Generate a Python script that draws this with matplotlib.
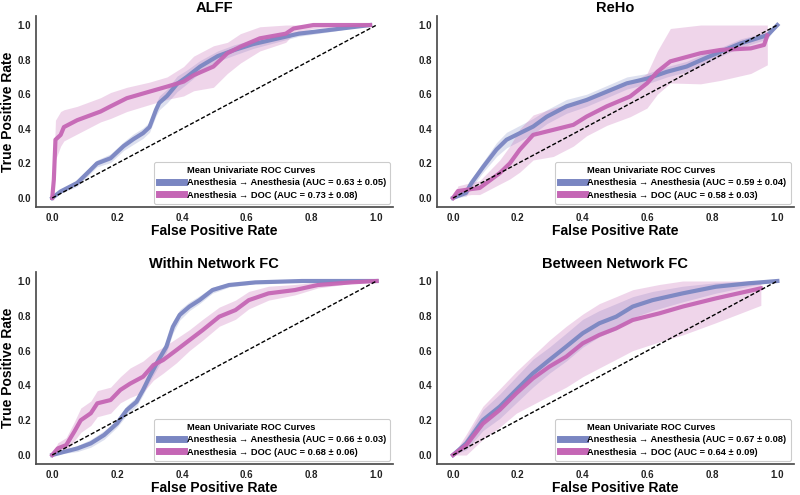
import matplotlib
matplotlib.use('Agg')
from matplotlib import pyplot as plt
from matplotlib.lines import Line2D

plt.rcParams['font.family'] = ['Liberation Sans', 'DejaVu Sans']
plt.rcParams['font.weight'] = 'bold'

BLUE = '#7a86c2'
PINK = '#c566b5'

titles = ['ALFF', 'ReHo', 'Within Network FC', 'Between Network FC']
labels_a = ['Anesthesia \u2192 Anesthesia (AUC = 0.63 \u00b1 0.05)',
            'Anesthesia \u2192 Anesthesia (AUC = 0.59 \u00b1 0.04)',
            'Anesthesia \u2192 Anesthesia (AUC = 0.66 \u00b1 0.03)',
            'Anesthesia \u2192 Anesthesia (AUC = 0.67 \u00b1 0.08)']
labels_d = ['Anesthesia \u2192 DOC (AUC = 0.73 \u00b1 0.08)',
            'Anesthesia \u2192 DOC (AUC = 0.58 \u00b1 0.03)',
            'Anesthesia \u2192 DOC (AUC = 0.68 \u00b1 0.06)',
            'Anesthesia \u2192 DOC (AUC = 0.64 \u00b1 0.09)']

# ALFF
alff_a_fpr = [0, .026, .077, .108, .138, .18, .22, .25, .28, .30, .32, .33, .354, .385, .415, .456, .51, .56, .62, .69, .76, .87, .98]
alff_a_tpr = [0, .038, .087, .144, .20, .23, .30, .34, .375, .41, .51, .55, .59, .66, .70, .76, .82, .855, .89, .92, .95, .975, 1.0]
alff_a_lo = [0, .028, .067, .124, .18, .205, .275, .31, .345, .38, .475, .51, .55, .615, .66, .725, .79, .825, .865, .90, .935, .965, 1.0]
alff_a_hi = [0, .048, .107, .164, .22, .255, .325, .37, .405, .44, .545, .59, .63, .705, .74, .795, .85, .885, .915, .94, .965, .985, 1.0]
alff_d_fpr = [0, .005, .01, .026, .036, .077, .149, .18, .23, .30, .354, .405, .436, .497, .54, .58, .64, .72, .744, .805, .98]
alff_d_tpr = [0, .106, .337, .365, .41, .45, .50, .53, .577, .615, .644, .673, .71, .76, .837, .875, .923, .95, .98, 1.0, 1.0]
alff_d_lo = [0, .05, .22, .30, .33, .37, .44, .46, .50, .54, .57, .59, .62, .64, .72, .78, .85, .90, .95, .98, 1.0]
alff_d_hi = [0, .18, .45, .50, .51, .53, .58, .61, .64, .67, .70, .76, .82, .88, .90, .95, .99, 1.0, 1.0, 1.0, 1.0]

# ReHo
reho_a_fpr = [0, .04, .057, .093, .134, .165, .206, .247, .289, .35, .412, .474, .536, .598, .66, .72, .78, .825, .887, .97, 1.0]
reho_a_tpr = [0, .03, .087, .18, .28, .337, .375, .413, .47, .53, .567, .615, .663, .69, .73, .76, .81, .846, .894, .942, 1.0]
reho_a_lo = [0, .01, .06, .15, .24, .29, .33, .37, .43, .49, .53, .58, .63, .66, .70, .73, .78, .82, .87, .92, 1.0]
reho_a_hi = [0, .05, .11, .21, .32, .38, .42, .46, .51, .57, .60, .65, .70, .72, .76, .79, .84, .87, .92, .96, 1.0]
reho_d_fpr = [0, .015, .057, .082, .103, .144, .175, .206, .247, .309, .371, .412, .474, .546, .598, .63, .67, .763, .825, .918, .959, .969]
reho_d_tpr = [0, .04, .052, .058, .087, .144, .20, .28, .365, .394, .423, .471, .53, .587, .663, .73, .79, .837, .856, .865, .885, .94]
reho_d_lo = [0, .01, .02, .02, .04, .08, .11, .15, .22, .24, .30, .36, .42, .47, .52, .60, .665, .66, .68, .72, .76, .77]
reho_d_hi = [0, .07, .09, .10, .14, .22, .30, .40, .48, .52, .55, .58, .62, .66, .72, .85, .98, 1.0, 1.0, 1.0, 1.0, 1.0]

# Within network FC
win_a_fpr = [0, .038, .078, .119, .16, .20, .23, .26, .28, .30, .322, .352, .372, .393, .423, .454, .494, .545, .626, .77, 1.0]
win_a_tpr = [0, .019, .038, .067, .115, .182, .259, .306, .374, .45, .527, .623, .737, .805, .853, .89, .948, .977, .992, 1.0, 1.0]
win_a_lo = [0, .01, .02, .045, .09, .16, .23, .28, .345, .42, .49, .59, .70, .775, .83, .87, .93, .965, .985, .995, 1.0]
win_a_hi = [0, .03, .055, .09, .14, .205, .285, .335, .40, .48, .56, .655, .77, .835, .88, .915, .965, .99, 1.0, 1.0, 1.0]
win_d_fpr = [0, .017, .043, .068, .088, .119, .139, .18, .21, .24, .28, .312, .342, .383, .423, .464, .515, .565, .606, .667, .748, .819, .92, 1.0]
win_d_tpr = [0, .038, .057, .134, .20, .24, .297, .316, .374, .41, .45, .517, .546, .603, .66, .718, .795, .833, .89, .929, .948, .977, .992, 1.0]
win_d_lo = [0, .01, .02, .08, .13, .17, .22, .24, .30, .33, .36, .43, .47, .53, .60, .66, .74, .78, .84, .89, .92, .96, .985, 1.0]
win_d_hi = [0, .07, .10, .19, .27, .31, .37, .39, .45, .50, .54, .59, .62, .67, .72, .78, .85, .89, .94, .97, .98, .995, 1.0, 1.0]

# Between network FC
btw_a_fpr = [0, .041, .092, .144, .195, .246, .297, .349, .40, .451, .503, .554, .615, .708, .81, .913, 1.0]
btw_a_tpr = [0, .067, .20, .278, .374, .469, .546, .623, .70, .757, .795, .853, .89, .929, .967, .987, 1.0]
btw_a_lo = [0, .03, .14, .21, .30, .39, .47, .54, .62, .68, .72, .79, .83, .88, .93, .97, 1.0]
btw_a_hi = [0, .10, .26, .35, .45, .55, .62, .70, .78, .83, .87, .91, .94, .97, .99, 1.0, 1.0]
btw_d_fpr = [0, .041, .092, .144, .195, .246, .297, .349, .40, .451, .503, .554, .636, .708, .81, .949]
btw_d_tpr = [0, .057, .18, .259, .354, .44, .508, .565, .642, .69, .728, .776, .814, .853, .90, .958]
btw_d_lo = [0, .0, .09, .16, .24, .29, .34, .39, .45, .50, .55, .60, .65, .69, .76, .86]
btw_d_hi = [0, .12, .28, .38, .48, .57, .66, .74, .81, .87, .91, .95, .98, 1.0, 1.0, 1.0]

curves = [
    ((alff_a_fpr, alff_a_tpr, alff_a_lo, alff_a_hi), (alff_d_fpr, alff_d_tpr, alff_d_lo, alff_d_hi)),
    ((reho_a_fpr, reho_a_tpr, reho_a_lo, reho_a_hi), (reho_d_fpr, reho_d_tpr, reho_d_lo, reho_d_hi)),
    ((win_a_fpr, win_a_tpr, win_a_lo, win_a_hi), (win_d_fpr, win_d_tpr, win_d_lo, win_d_hi)),
    ((btw_a_fpr, btw_a_tpr, btw_a_lo, btw_a_hi), (btw_d_fpr, btw_d_tpr, btw_d_lo, btw_d_hi)),
]

# axes rectangles in figure fraction
rects = [
    [0.045, 0.5825, 0.446, 0.3844],
    [0.546, 0.5825, 0.446, 0.3844],
    [0.045, 0.0632, 0.446, 0.3867],
    [0.546, 0.0632, 0.446, 0.3867],
]

fig = plt.figure(figsize=(8, 4.95), dpi=100)

for i in range(4):
    ax = fig.add_axes(rects[i])
    (fa, ta, la, ha), (fd, td, ld, hd) = curves[i]

    ax.fill_between(fa, la, ha, color=BLUE, alpha=0.25, lw=0)
    ax.fill_between(fd, ld, hd, color=PINK, alpha=0.27, lw=0)
    ax.plot(fa, ta, color=BLUE, lw=3, alpha=0.95)
    ax.plot(fd, td, color=PINK, lw=3, alpha=0.95)
    ax.plot([0, 1], [0, 1], color='black', ls='--', lw=1, dashes=(3, 1.5), zorder=5)

    ax.set_xlim(-0.05, 1.05)
    ax.set_ylim(-0.05, 1.05)
    ax.set_xticks([0, 0.2, 0.4, 0.6, 0.8, 1.0])
    ax.set_yticks([0, 0.2, 0.4, 0.6, 0.8, 1.0])
    ax.tick_params(length=0, labelsize=7, colors='#222222')
    ax.tick_params(axis='x', pad=4.5)
    ax.tick_params(axis='y', pad=3.5)
    for lab in ax.get_xticklabels() + ax.get_yticklabels():
        lab.set_fontweight('bold')

    for s in ['top', 'right']:
        ax.spines[s].set_visible(False)
    for s in ['left', 'bottom']:
        ax.spines[s].set_color('#4d4d4d')
        ax.spines[s].set_linewidth(1.25)

    ax.set_title(titles[i], fontsize=10.5, fontweight='bold', pad=3)
    ax.set_xlabel('False Positive Rate', fontsize=10, fontweight='bold', labelpad=1)
    if i % 2 == 0:
        ax.set_ylabel('True Positive Rate', fontsize=10, fontweight='bold')
        ax.yaxis.set_label_coords(-0.058, 0.5)

    handles = [Line2D([], [], color='none'),
               Line2D([], [], color=BLUE, lw=5),
               Line2D([], [], color=PINK, lw=5)]
    names = ['Mean Univariate ROC Curves', labels_a[i], labels_d[i]]
    leg = ax.legend(handles, names, loc='lower right',
                    prop={'weight': 'bold', 'size': 6.7},
                    handlelength=2.7, handletextpad=0.3, labelspacing=0.35,
                    borderpad=0.45, borderaxespad=0.3, framealpha=1,
                    edgecolor='#cccccc', fancybox=True)
    leg.get_frame().set_linewidth(0.8)

fig.savefig('out.png', dpi=100)
